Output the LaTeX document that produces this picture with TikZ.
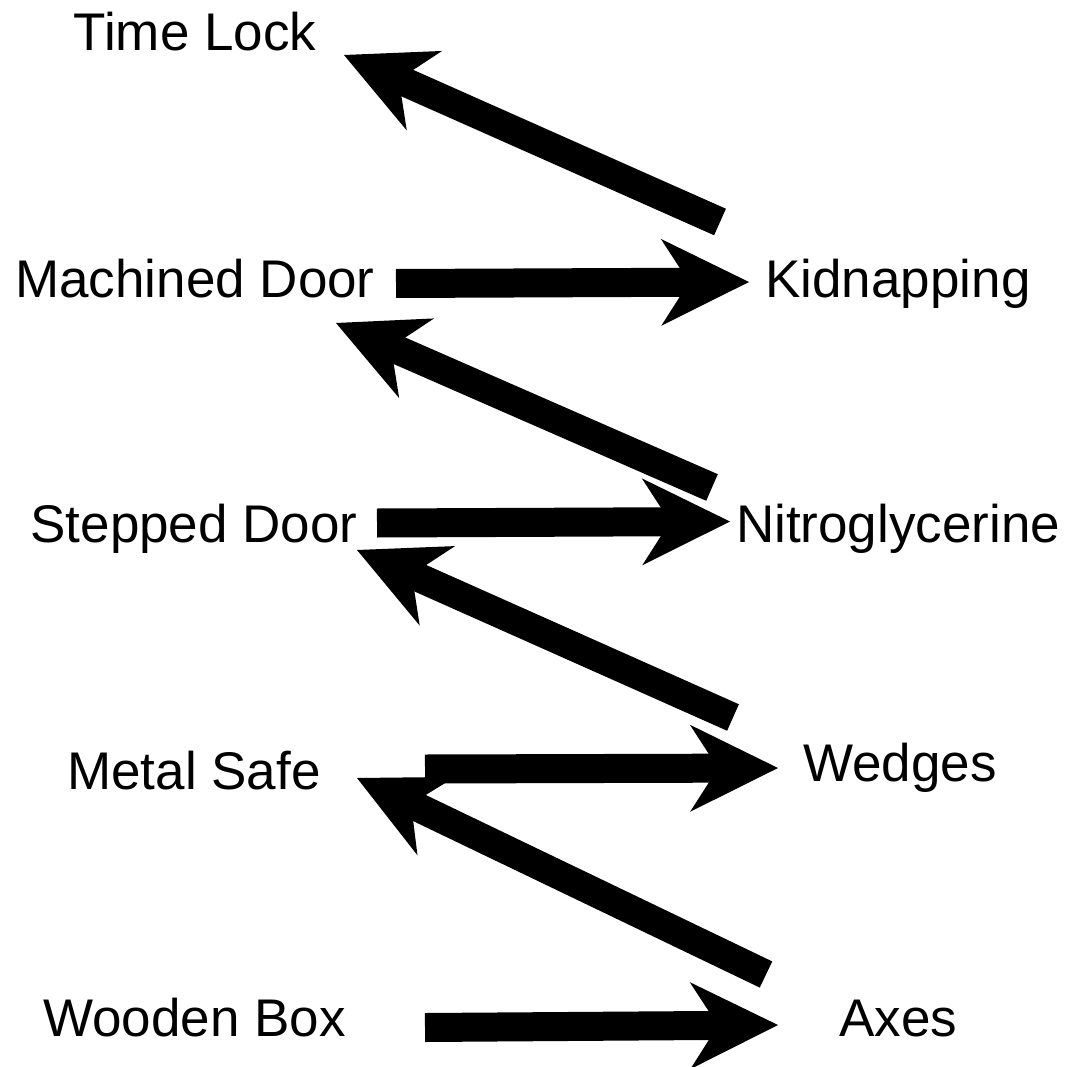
\documentclass[tikz,border=0pt]{standalone}
\usepackage{fontspec}
\setmainfont{Liberation Sans}
\usetikzlibrary{arrows.meta}
\begin{document}
\begin{tikzpicture}[x=1pt,y=-1pt,
  label/.style={anchor=base,inner sep=0pt,font=\fontsize{53}{60}\selectfont},
  fat/.style={line width=29pt,line cap=butt,
    -{Stealth[length=88pt,width=87pt,inset=28pt,line width=0pt]}}]
\useasboundingbox (0,0) rectangle (1067,1067);

% labels (left column: safes, right column: methods)
\node[label] (timelock) at (195,51)   {Time Lock};
\node[label] (machined) at (195,297)  {Machined Door};
\node[label] (kidnap)   at (898,297)  {Kidnapping};
\node[label] (stepped)  at (194,542)  {Stepped Door};
\node[label] (nitro)    at (898,542)  {Nitroglycerine};
\node[label] (metal)    at (194,789)  {Metal Safe};
\node[label] (wedges)   at (900,781)  {Wedges};
\node[label] (wooden)   at (194.5,1036) {Wooden Box};
\node[label] (axes)     at (898.5,1036) {Axes};

% arrow end points
\coordinate (kidnap-out)   at (720,222);
\coordinate (timelock-in)  at (344,55);
\coordinate (machined-out) at (396,283.5);
\coordinate (kidnap-in)    at (749,282);
\coordinate (nitro-out)    at (712,487.5);
\coordinate (machined-in)  at (336,323);
\coordinate (stepped-out)  at (377,523);
\coordinate (nitro-in)     at (730,521.5);
\coordinate (wedges-out)   at (733,717.5);
\coordinate (stepped-in)   at (357,550);
\coordinate (metal-out)    at (425,769);
\coordinate (wedges-in)    at (778,768);
\coordinate (axes-out)     at (766,974.5);
\coordinate (metal-in)     at (357,778);
\coordinate (wooden-out)   at (425,1027.5);
\coordinate (axes-in)      at (778,1025);

% connectors
\draw[fat] (kidnap-out)   -- (timelock-in);
\draw[fat] (machined-out) -- (kidnap-in);
\draw[fat] (nitro-out)    -- (machined-in);
\draw[fat] (stepped-out)  -- (nitro-in);
\draw[fat] (wedges-out)   -- (stepped-in);
\draw[fat] (axes-out)     -- (metal-in);
\draw[fat] (metal-out)    -- (wedges-in);
\draw[fat] (wooden-out)   -- (axes-in);
\end{tikzpicture}
\end{document}
